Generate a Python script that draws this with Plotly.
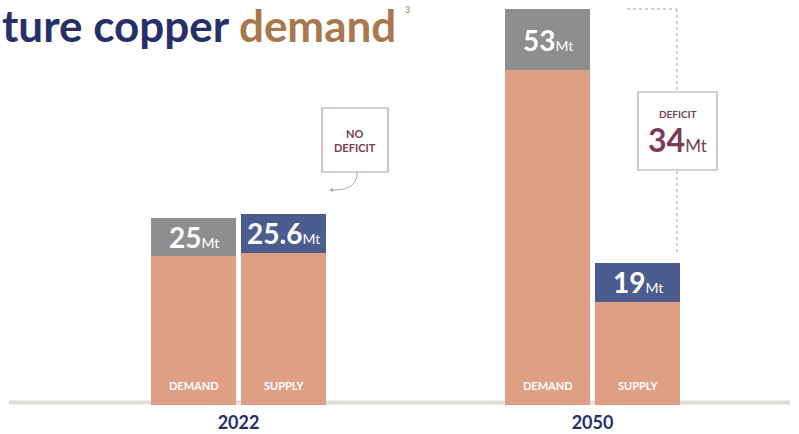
import plotly.graph_objects as go

# ---------------- data ----------------
years = ["2022", "2050"]
series = ["DEMAND", "SUPPLY"]
demand = [25, 53]      # Mt
supply = [25.6, 19]    # Mt
unit = "Mt"

# ---------------- style / layout constants ----------------
W, H = 799, 434
MB = 29                      # bottom margin (px)
PLOT_H = H - MB
GROUP_PX = [238.5, 592.5]    # pixel centre of each year group
PX_PER_X = GROUP_PX[1] - GROUP_PX[0]
BAR_W_PX = 85
BAR_OFF_PX = 45
CAP_MT = {("2022", "DEMAND"): 5.0, ("2022", "SUPPLY"): 5.2,
          ("2050", "DEMAND"): 8.2, ("2050", "SUPPLY"): 5.2}
NAVY = "#262f6a"
BROWN = "#a8784c"
MAROON = "#7b3b56"
BOXLINE = "#b99ea8"
COPPER = "#df9f85"
GRAY = "#8e8e8e"
BLUE = "#4b5c8e"
FONT = "Lato"

x_lo = -GROUP_PX[0] / PX_PER_X
x_hi = (W - GROUP_PX[0]) / PX_PER_X
ymax = max(demand + supply)
y_hi = ymax * PLOT_H / (PLOT_H - 9)

def px_x(p):
    return x_lo + p / PX_PER_X

def py_y(p):
    return (PLOT_H - p) / PLOT_H * y_hi

off = BAR_OFF_PX / PX_PER_X
bw = BAR_W_PX / PX_PER_X

xs, vals, caps, capcols, names = [], [], [], [], []
for gi, yr in enumerate(years):
    for si, s in enumerate(series):
        v = demand[gi] if s == "DEMAND" else supply[gi]
        xs.append(gi + (-off if si == 0 else off))
        vals.append(v)
        caps.append(CAP_MT[(yr, s)])
        capcols.append(GRAY if s == "DEMAND" else BLUE)
        names.append(s)

fig = go.Figure()
fig.add_trace(go.Bar(x=xs, y=[v - c for v, c in zip(vals, caps)], width=bw,
                     marker=dict(color=COPPER, line=dict(width=0)),
                     hoverinfo="skip", showlegend=False))
fig.add_trace(go.Bar(x=xs, y=caps, width=bw,
                     marker=dict(color=capcols, line=dict(width=0)),
                     hoverinfo="skip", showlegend=False))

ann = []
for x, v, c, n in zip(xs, vals, caps, names):
    vtxt = f"{v:g}"
    ann.append(dict(x=x, y=v - c / 2, xref="x", yref="y", showarrow=False,
                    text=f"<b>{vtxt}</b><span style='font-size:14px;font-weight:normal'>{unit}</span>",
                    font=dict(family=FONT, size=28, color="white", weight=900)))
    ann.append(dict(x=x, y=0, xref="x", yref="y", yanchor="bottom", yshift=11,
                    showarrow=False, text=f"<b>{n}</b>",
                    font=dict(family=FONT, size=11, color="white", weight=900)))

# title
ann.append(dict(x=0, y=1 - 25 / PLOT_H, xref="paper", yref="paper",
                xanchor="left", yanchor="middle", showarrow=False,
                text=f"<b>ture copper <span style='color:{BROWN}'>demand</span></b>",
                font=dict(family=FONT, size=44, color=NAVY, weight=900)))
ann.append(dict(x=407 / W, y=1 - 9 / PLOT_H, xref="paper", yref="paper",
                xanchor="center", yanchor="middle", showarrow=False, text="3",
                font=dict(family=FONT, size=9, color=BROWN)))

shapes = []
# NO DEFICIT box (2022)
shapes.append(dict(type="rect", xref="x", yref="y", x0=px_x(322), x1=px_x(388),
                   y0=py_y(172), y1=py_y(108), fillcolor="white",
                   line=dict(color=BOXLINE, width=1.2)))
ann.append(dict(x=px_x(355), y=py_y(140), xref="x", yref="y", showarrow=False,
                text="<b>NO<br>DEFICIT</b>",
                font=dict(family=FONT, size=11, color=MAROON, weight=900)))
shapes.append(dict(type="path", xref="x", yref="y",
                   path=f"M {px_x(357)} {py_y(172)} Q {px_x(358)} {py_y(190)} {px_x(333)} {py_y(190)}",
                   line=dict(color="#a9a9a9", width=1)))
ann.append(dict(x=px_x(329), y=py_y(190), xref="x", yref="y", text="",
                showarrow=True, ax=6, ay=0, arrowhead=2, arrowsize=0.8,
                arrowwidth=1, arrowcolor="#a9a9a9"))

# DEFICIT (2050)
gap = demand[1] - supply[1]
shapes.append(dict(type="line", xref="x", yref="y", x0=px_x(627), x1=px_x(677),
                   y0=demand[1], y1=demand[1], line=dict(color="#cbbcc1", width=1.5, dash="dot")))
shapes.append(dict(type="line", xref="x", yref="y", x0=px_x(677), x1=px_x(677),
                   y0=demand[1], y1=supply[1] + 1.3, line=dict(color="#cbbcc1", width=1.5, dash="dot")))
shapes.append(dict(type="rect", xref="x", yref="y", x0=px_x(638), x1=px_x(717),
                   y0=py_y(170), y1=py_y(92), fillcolor="white",
                   line=dict(color=BOXLINE, width=1.2)))
ann.append(dict(x=px_x(677.5), y=py_y(114), xref="x", yref="y", showarrow=False,
                text="<b>DEFICIT</b>",
                font=dict(family=FONT, size=10, color=MAROON, weight=900)))
ann.append(dict(x=px_x(677.5), y=py_y(139), xref="x", yref="y", showarrow=False,
                text=f"<b>{gap:g}</b><span style='font-size:17px;font-weight:normal'>{unit}</span>",
                font=dict(family=FONT, size=32, color=MAROON, weight=900)))

# baseline
shapes.append(dict(type="line", xref="paper", yref="y", x0=9 / W, x1=1 - 9 / W,
                   y0=py_y(402.5), y1=py_y(402.5), layer="below",
                   line=dict(color="#e0ddd9", width=4)))

fig.update_layout(
    width=W, height=H, margin=dict(l=0, r=0, t=0, b=MB, autoexpand=False),
    paper_bgcolor="white", plot_bgcolor="white",
    barmode="stack", bargap=0,
    xaxis=dict(range=[x_lo, x_hi], tickvals=[0, 1], ticktext=[f"<b>{y}</b>" for y in years],
               showgrid=False, zeroline=False, showline=False, ticks="", automargin=False,
               tickfont=dict(family=FONT, size=18, color=NAVY, weight=900), ticklabelstandoff=5),
    yaxis=dict(range=[0, y_hi], visible=False, showgrid=False, zeroline=False, automargin=False),
    annotations=ann, shapes=shapes,
)
fig.write_html("out.html", config={"displayModeBar": False},
               post_script="document.body.style.margin='0px';document.body.style.overflow='hidden';")
